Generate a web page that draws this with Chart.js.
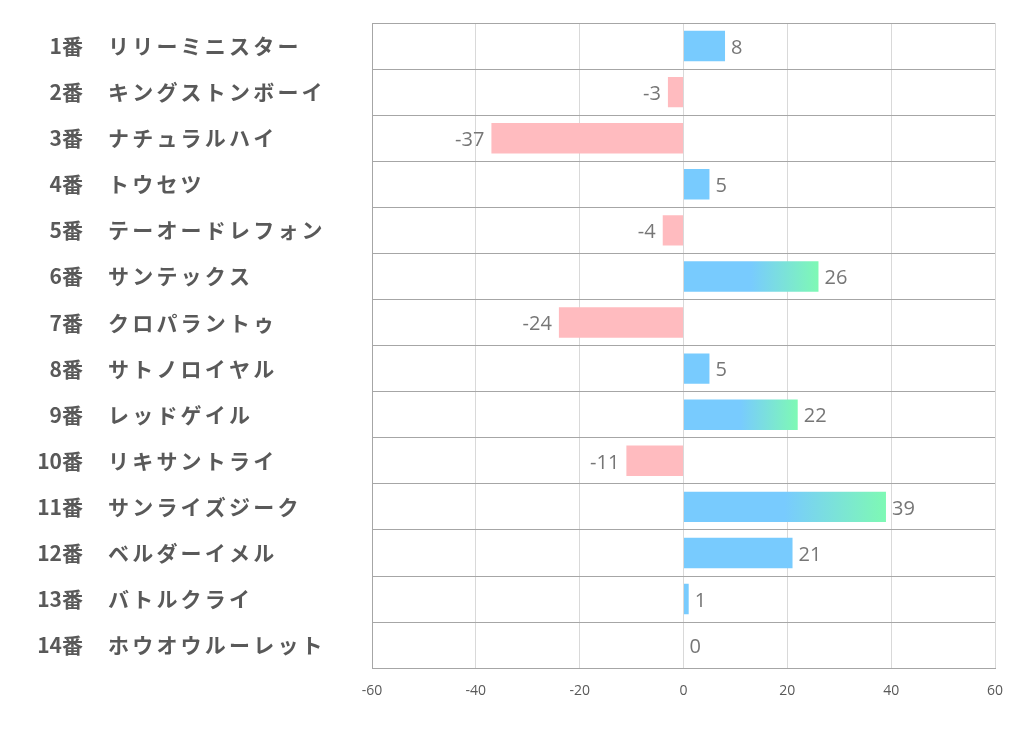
<!DOCTYPE html>
<html>
<head>
<meta charset="utf-8">
<script src="https://cdn.jsdelivr.net/npm/chart.js@4.4.0/dist/chart.umd.min.js"></script>
<style>
  body { margin: 0; background: #fff; }
  #wrap { width: 1022px; height: 730px; }
</style>
</head>
<body>
<div id="wrap"><canvas id="chart" width="1022" height="730"></canvas></div>
<script>
const numbers = ['1番', '2番', '3番', '4番', '5番', '6番', '7番', '8番', '9番', '10番', '11番', '12番', '13番', '14番'];
const horses = ['リリーミニスター', 'キングストンボーイ', 'ナチュラルハイ', 'トウセツ', 'テーオードレフォン',
  'サンテックス', 'クロパラントゥ', 'サトノロイヤル', 'レッドゲイル', 'リキサントライ',
  'サンライズジーク', 'ベルダーイメル', 'バトルクライ', 'ホウオウルーレット'];
const scores = [8, -3, -37, 5, -4, 26, -24, 5, 22, -11, 39, 21, 1, 0];
const xTicks = [-60, -40, -20, 0, 20, 40, 60];

const BLUE = '#78cbfe';
const GREEN = '#7ef9b4';
const PINK = '#ffbbbf';

function barColor(ctx) {
  const v = ctx.raw;
  if (v < 0) return PINK;
  if (v < 22) return BLUE;
  const x = ctx.chart.scales.x;
  if (!x || !ctx.chart.chartArea) return BLUE;
  const x0 = x.getPixelForValue(0);
  const x1 = x.getPixelForValue(v);
  const g = ctx.chart.ctx.createLinearGradient(x0 + (x1 - x0) * 0.5, 0, x1, 0);
  g.addColorStop(0, BLUE);
  g.addColorStop(1, GREEN);
  return g;
}

// names and values drawn next to the bars
const labelPlugin = {
  id: 'labels',
  afterDraw(chart) {
    const c = chart.ctx;
    const y = chart.scales.y;
    const x = chart.scales.x;
    c.save();
    c.textBaseline = 'middle';
    c.fillStyle = '#595959';
    c.font = 'bold 21px "Noto Sans CJK JP"';
    horses.forEach((name, i) => {
      const py = y.getPixelForValue(i);
      c.letterSpacing = '0px';
      c.textAlign = 'right';
      c.fillText(numbers[i], 83, py);
      c.letterSpacing = '3.2px';
      c.textAlign = 'left';
      c.fillText(name, 108, py);
    });
    c.letterSpacing = '0px';
    c.font = '20px "Open Sans"';
    c.fillStyle = '#767676';
    scores.forEach((v, i) => {
      const py = y.getPixelForValue(i) + 2;
      const px = x.getPixelForValue(v);
      if (v < 0) {
        c.textAlign = 'right';
        c.fillText(String(v), px - 7, py);
      } else {
        c.textAlign = 'left';
        c.fillText(String(v), px + 6, py);
      }
    });
    c.restore();
  }
};

new Chart(document.getElementById('chart'), {
  type: 'bar',
  data: {
    labels: horses,
    datasets: [{
      data: scores,
      backgroundColor: barColor,
      barPercentage: 0.66,
      categoryPercentage: 1
    }]
  },
  options: {
    indexAxis: 'y',
    responsive: false,
    animation: false,
    layout: { padding: { left: 372, right: 27, top: 23, bottom: 17 } },
    plugins: { legend: { display: false }, tooltip: { enabled: false } },
    scales: {
      x: {
        min: -60,
        max: 60,
        afterBuildTicks(scale) { scale.ticks = xTicks.map(v => ({ value: v })); },
        grid: { color: '#d9d9d9', drawTicks: false },
        border: { color: '#a6a6a6', width: 1 },
        ticks: { color: '#595959', font: { family: 'Open Sans', size: 14 }, padding: 14 }
      },
      y: {
        grid: { color: '#a6a6a6', drawTicks: false, offset: true },
        border: { color: '#a6a6a6', width: 1 },
        ticks: { display: false }
      }
    }
  },
  plugins: [labelPlugin]
});
</script>
</body>
</html>
